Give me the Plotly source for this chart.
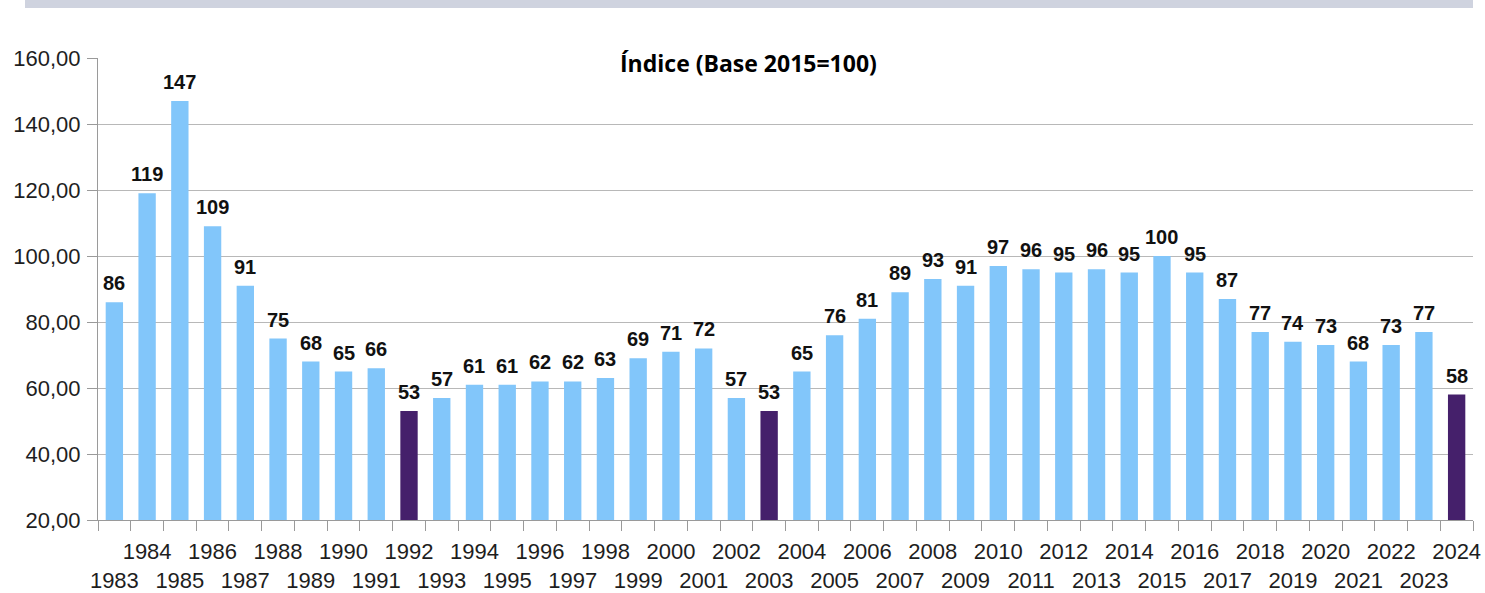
import plotly.graph_objects as go

years = list(range(1983, 2025))
values = [86, 119, 147, 109, 91, 75, 68, 65, 66, 53, 57, 61, 61, 62, 62, 63, 69, 71, 72, 57, 53,
          65, 76, 81, 89, 93, 91, 97, 96, 95, 96, 95, 100, 95, 87, 77, 74, 73, 68, 73, 77, 58]
highlight_years = [1992, 2003, 2024]
y_ticks = [20, 40, 60, 80, 100, 120, 140, 160]
y_tick_labels = ["20,00", "40,00", "60,00", "80,00", "100,00", "120,00", "140,00", "160,00"]
title_text = "Índice (Base 2015=100)"

LIGHT = "#82c6fa"
DARK = "#45206b"

cats = [str(y) for y in years]
colors = [DARK if y in highlight_years else LIGHT for y in years]
x_tick_text = [str(y) if y % 2 == 0 else "<br>" + str(y) for y in years]

fig = go.Figure()
fig.add_trace(go.Bar(
    x=cats, y=values,
    marker=dict(color=colors, line=dict(width=0)),
    hoverinfo="x+y",
))

W, H = 1485, 593
ml, mr, mt, mb = 98, 12, 58, 73
ph = H - mt - mb
pw = W - ml - mr

annotations = [dict(
    text="<b>" + title_text + "</b>",
    xref="paper", yref="paper", x=(748 - ml) / pw, y=1 - 5 / ph,
    xanchor="center", yanchor="middle", showarrow=False,
    font=dict(family="Open Sans, Lato, sans-serif", size=23, color="#000000"),
)]
for i, v in enumerate(values):
    annotations.append(dict(
        x=i, y=v, xref="x", yref="y",
        text=f"<b>{v:.0f}</b>",
        xanchor="center", yanchor="bottom", yshift=6,
        showarrow=False,
        font=dict(family="Liberation Sans, Arial, sans-serif", size=20, color="#111111"),
    ))

fig.update_layout(
    width=W, height=H,
    margin=dict(l=ml, r=mr, t=mt, b=mb, pad=0, autoexpand=False),
    paper_bgcolor="white", plot_bgcolor="white",
    bargap=0.47,
    showlegend=False,
    font=dict(family="Liberation Sans, Arial, sans-serif", color="#1e1e1e"),
    xaxis=dict(
        type="category",
        tickmode="array", tickvals=cats, ticktext=x_tick_text,
        tickson="boundaries",
        ticks="outside", ticklen=10, tickcolor="#9a9a9a", tickwidth=1,
        tickfont=dict(size=22, color="#1e1e1e"),
        ticklabelstandoff=12,
        tickangle=0,
        automargin=False,
        showgrid=False,
        showline=True, linecolor="#9a9a9a", linewidth=1,
        range=[-0.5, len(years) - 0.5],
    ),
    yaxis=dict(
        range=[20, 160],
        tickmode="array", tickvals=y_ticks, ticktext=y_tick_labels,
        ticks="outside", ticklen=10, tickcolor="#9a9a9a",
        tickfont=dict(size=22, color="#1e1e1e"),
        ticklabelstandoff=2,
        automargin=False,
        showgrid=True, gridcolor="#b8b8b8", gridwidth=1,
        showline=True, linecolor="#9a9a9a", linewidth=1,
        zeroline=False,
    ),
    annotations=annotations,
    shapes=[dict(
        type="rect", xref="paper", yref="paper",
        x0=(25 - ml) / pw, x1=(1473 - ml) / pw,
        y0=1 + (mt - 8) / ph, y1=1 + mt / ph,
        fillcolor="#cfd3df", line=dict(width=0), layer="above",
    )],
)

fig.write_html(
    "out.html",
    config={"displayModeBar": False},
    post_script="document.body.style.margin='0';document.body.style.overflow='hidden';",
)
